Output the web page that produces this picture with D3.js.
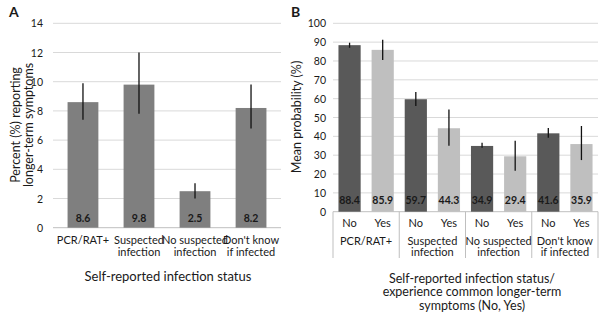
<!DOCTYPE html>
<head>
  <meta charset="utf-8">
  <script src="https://d3js.org/d3.v7.min.js"></script>
  <style>
    body { margin:0; background:#fff; }
    text { font-family: Lato, "Open Sans", sans-serif; fill:#1a1a1a; }
    .grid line { stroke:#d9d9d9; stroke-width:1px; }
  </style>
</head>
<body>
  <script>
    // panel A
    var catsA = ["PCR/RAT+", "Suspected\ninfection", "No suspected\ninfection", "Don't know\nif infected"]
    var valsA = [8.6, 9.8, 2.5, 8.2]
    var lowA  = [7.4, 7.8, 2.0, 6.8]
    var highA = [9.9, 12.0, 3.05, 9.8]
    var ticksA = [0, 2, 4, 6, 8, 10, 12, 14]

    // panel B
    var groupsB = ["PCR/RAT+", "Suspected\ninfection", "No suspected\ninfection", "Don't know\nif infected"]
    var subsB = ["No", "Yes"]
    var valsNo  = [88.4, 59.7, 34.9, 41.6]
    var valsYes = [85.9, 44.3, 29.4, 35.9]
    var lowNo   = [87.0, 56.1, 34.0, 39.3]
    var highNo  = [89.7, 63.5, 36.6, 44.4]
    var lowYes  = [80.5, 35.0, 21.8, 27.4]
    var highYes = [91.3, 54.3, 37.7, 45.5]
    var ticksB = [0, 10, 20, 30, 40, 50, 60, 70, 80, 90, 100]

    var svg = d3.select("body").append("svg")
      .attr("width", 600)
      .attr("height", 316)

    function multiline(sel, str, lh) {
      str.split("\n").forEach(function(s, i) {
        sel.append("tspan").attr("x", sel.attr("x")).attr("dy", i == 0 ? 0 : lh).text(s)
      })
    }

    // ---------- A ----------
    var xA = d3.scaleBand().domain(d3.range(4)).range([53, 281])
      .paddingInner(0.45).paddingOuter(0.26)
    var yA = d3.scaleLinear().domain([0, 14]).range([227.7, 23.3])

    var gA = svg.append("g")
    gA.append("g").attr("class", "grid").selectAll("line").data(ticksA).enter()
      .append("line")
      .attr("x1", 53).attr("x2", 281)
      .attr("y1", function(d) { return yA(d) }).attr("y2", function(d) { return yA(d) })
      .style("stroke", function(d) { return d == 0 ? "#bfbfbf" : null })

    gA.selectAll("text.tick").data(ticksA).enter()
      .append("text").attr("class", "tick")
      .attr("x", 43).attr("y", function(d) { return yA(d) + 4 })
      .attr("text-anchor", "end").style("font-size", "10.5px")
      .text(function(d) { return d })

    gA.selectAll("rect").data(valsA).enter()
      .append("rect")
      .attr("x", function(d, i) { return xA(i) })
      .attr("width", xA.bandwidth())
      .attr("y", function(d) { return yA(d) })
      .attr("height", function(d) { return yA(0) - yA(d) })
      .style("fill", "#7f7f7f")

    gA.selectAll("line.err").data(valsA).enter()
      .append("line").attr("class", "err")
      .attr("x1", function(d, i) { return xA(i) + xA.bandwidth() / 2 })
      .attr("x2", function(d, i) { return xA(i) + xA.bandwidth() / 2 })
      .attr("y1", function(d, i) { return yA(lowA[i]) })
      .attr("y2", function(d, i) { return yA(highA[i]) })
      .style("stroke", "#111").style("stroke-width", 1.3)

    gA.selectAll("text.val").data(valsA).enter()
      .append("text").attr("class", "val")
      .attr("x", function(d, i) { return xA(i) + xA.bandwidth() / 2 })
      .attr("y", 221.5).attr("text-anchor", "middle")
      .style("font-size", "10.5px").style("font-weight", "bold")
      .text(function(d) { return d.toFixed(1) })

    gA.selectAll("text.cat").data(catsA).enter()
      .append("text").attr("class", "cat")
      .attr("x", function(d, i) { return xA(i) + xA.bandwidth() / 2 })
      .attr("y", 244).attr("text-anchor", "middle")
      .style("font-size", "11px")
      .each(function(d) { multiline(d3.select(this), d, 11.7) })

    gA.append("text").attr("x", 168).attr("y", 281).attr("text-anchor", "middle")
      .style("font-size", "13px").text("Self-reported infection status")

    gA.append("text").attr("transform", "translate(19.5,125) rotate(-90)")
      .attr("x", 0).attr("y", 0).attr("text-anchor", "middle")
      .style("font-size", "12.5px")
      .each(function() { multiline(d3.select(this), "Percent (%) reporting\nlonger-term symptoms", 13) })

    gA.append("text").attr("x", 9).attr("y", 17).style("font-size", "14px")
      .style("font-weight", "bold").text("A")

    // ---------- B ----------
    var x0 = d3.scaleBand().domain(d3.range(4)).range([333, 598])
    var x1 = d3.scaleBand().domain(subsB).range([0, x0.bandwidth()])
      .paddingInner(0.33).paddingOuter(0.165)
    var yB = d3.scaleLinear().domain([0, 100]).range([211.7, 23.3])

    var gB = svg.append("g")
    gB.append("g").attr("class", "grid").selectAll("line").data(ticksB).enter()
      .append("line")
      .attr("x1", 333).attr("x2", 598)
      .attr("y1", function(d) { return yB(d) }).attr("y2", function(d) { return yB(d) })
      .style("stroke", function(d) { return d == 0 ? "#bfbfbf" : null })

    gB.selectAll("text.tick").data(ticksB).enter()
      .append("text").attr("class", "tick")
      .attr("x", 326).attr("y", function(d) { return yB(d) + 4 })
      .attr("text-anchor", "end").style("font-size", "10.5px")
      .text(function(d) { return d })

    var barsB = []
    groupsB.forEach(function(g, i) {
      barsB.push({ g: i, s: "No", v: valsNo[i], lo: lowNo[i], hi: highNo[i] })
      barsB.push({ g: i, s: "Yes", v: valsYes[i], lo: lowYes[i], hi: highYes[i] })
    })
    var colB = { No: "#595959", Yes: "#bfbfbf" }
    function cx(d) { return x0(d.g) + x1(d.s) + x1.bandwidth() / 2 }

    gB.selectAll("rect").data(barsB).enter()
      .append("rect")
      .attr("x", function(d) { return x0(d.g) + x1(d.s) })
      .attr("width", x1.bandwidth())
      .attr("y", function(d) { return yB(d.v) })
      .attr("height", function(d) { return yB(0) - yB(d.v) })
      .style("fill", function(d) { return colB[d.s] })

    gB.selectAll("line.err").data(barsB).enter()
      .append("line").attr("class", "err")
      .attr("x1", cx).attr("x2", cx)
      .attr("y1", function(d) { return yB(d.lo) })
      .attr("y2", function(d) { return yB(d.hi) })
      .style("stroke", "#111").style("stroke-width", 1.3)

    gB.selectAll("text.val").data(barsB).enter()
      .append("text").attr("class", "val")
      .attr("x", cx).attr("y", 203.5).attr("text-anchor", "middle")
      .style("font-size", "10.5px").style("font-weight", "bold")
      .text(function(d) { return d.v.toFixed(1) })

    gB.selectAll("text.sub").data(barsB).enter()
      .append("text").attr("class", "sub")
      .attr("x", cx).attr("y", 226.5).attr("text-anchor", "middle")
      .style("font-size", "11px")
      .text(function(d) { return d.s })

    gB.selectAll("line.sep").data(d3.range(5)).enter()
      .append("line").attr("class", "sep")
      .attr("x1", function(d) { return 333 + d * x0.step() })
      .attr("x2", function(d) { return 333 + d * x0.step() })
      .attr("y1", 211.7).attr("y2", 258)
      .style("stroke", "#bfbfbf")

    gB.selectAll("text.grp").data(groupsB).enter()
      .append("text").attr("class", "grp")
      .attr("x", function(d, i) { return x0(i) + x0.bandwidth() / 2 })
      .attr("y", 244.5).attr("text-anchor", "middle")
      .style("font-size", "11px")
      .each(function(d) { multiline(d3.select(this), d, 11.7) })

    gB.append("text").attr("x", 472).attr("y", 282.5).attr("text-anchor", "middle")
      .style("font-size", "12.5px")
      .each(function() { multiline(d3.select(this), "Self-reported infection status/\nexperience common longer-term\nsymptoms (No, Yes)", 13.5) })

    gB.append("text").attr("transform", "translate(301,117) rotate(-90)")
      .attr("x", 0).attr("y", 0).attr("text-anchor", "middle")
      .style("font-size", "12.5px").text("Mean probability (%)")

    gB.append("text").attr("x", 291).attr("y", 17).style("font-size", "14px")
      .style("font-weight", "bold").text("B")
  </script>
</body>
